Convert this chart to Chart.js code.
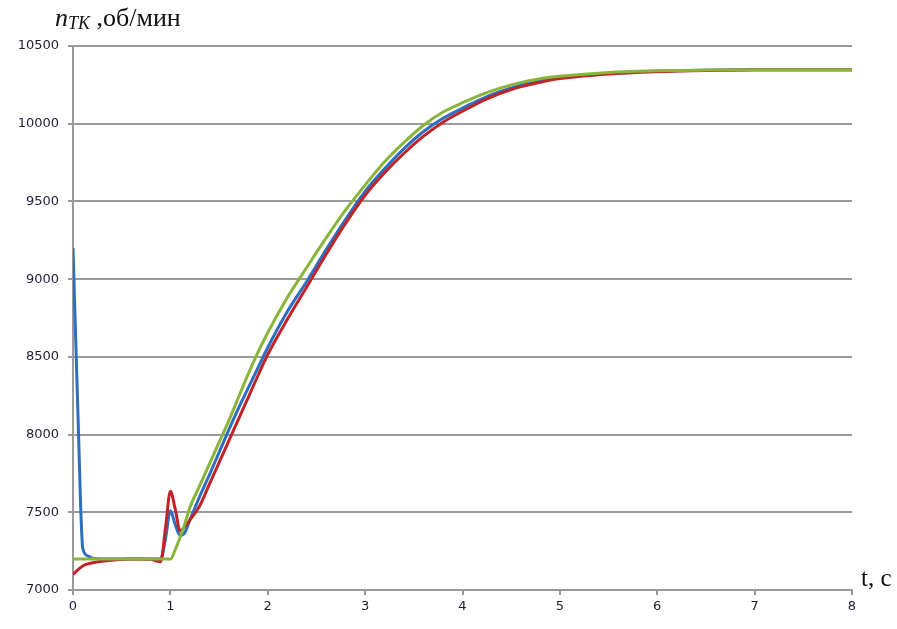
<!DOCTYPE html>
<html>
<head>
<meta charset="utf-8">
<script src="https://cdn.jsdelivr.net/npm/chart.js@4/dist/chart.umd.min.js"></script>
<style>
  body { margin: 0; background: #fff; }
  #wrap { position: relative; width: 897px; height: 629px; }
  .lbl { position: absolute; font-family: "Liberation Serif", "DejaVu Serif", serif; color: #111; white-space: nowrap; }
  #ytitle { left: 55px; top: 3px; font-size: 26px; }
  #ytitle sub { font-size: 18px; font-style: italic; vertical-align: -3px; }
  #xtitle { left: 861px; top: 564px; font-size: 25px; }
</style>
</head>
<body>
<div id="wrap">
  <canvas id="myChart" width="897" height="629"></canvas>
  <div id="ytitle" class="lbl"><i>n</i><sub>TK</sub> ,об/мин</div>
  <div id="xtitle" class="lbl">t, с</div>
</div>
<script>
const time = [0, 0.05, 0.1, 0.15, 0.2, 0.3, 0.4, 0.5, 0.6, 0.7, 0.8, 0.85, 0.9, 0.95, 1.0, 1.05, 1.1, 1.15, 1.2,
  1.3, 1.4, 1.5, 1.6, 1.7, 1.8, 1.9, 2.0, 2.2, 2.4, 2.6, 2.8, 3.0, 3.2, 3.4, 3.6, 3.8, 4.0, 4.25, 4.5, 4.75,
  5.0, 5.5, 6.0, 6.5, 7.0, 7.5, 8.0];

const speedBlue = [9200, 8150, 7270, 7220, 7205, 7200, 7200, 7200, 7200, 7200, 7200, 7200, 7200, 7330, 7510, 7420, 7350, 7370, 7450,
  7600, 7740, 7885, 8030, 8170, 8300, 8430, 8560, 8790, 8985, 9190, 9385, 9565, 9710, 9840, 9950, 10035, 10100, 10175, 10230, 10270,
  10295, 10325, 10338, 10344, 10347, 10348, 10348];

const speedRed = [7100, 7130, 7155, 7168, 7175, 7185, 7192, 7197, 7200, 7200, 7198, 7188, 7182, 7400, 7635, 7520, 7380, 7410, 7450,
  7540, 7680, 7820, 7960, 8100, 8240, 8380, 8515, 8740, 8950, 9160, 9360, 9540, 9685, 9810, 9920, 10010, 10080, 10160, 10220, 10260,
  10290, 10320, 10335, 10343, 10347, 10348, 10348];

const speedGreen = [7200, 7200, 7200, 7200, 7200, 7200, 7200, 7200, 7200, 7200, 7200, 7200, 7200, 7200, 7198, 7260, 7340, 7430, 7530,
  7670, 7810, 7950, 8090, 8240, 8390, 8530, 8655, 8880, 9075, 9265, 9445, 9605, 9755, 9880, 9990, 10075, 10135, 10200, 10250, 10285,
  10305, 10330, 10340, 10345, 10348, 10348, 10348];

const xTicks = [0, 1, 2, 3, 4, 5, 6, 7, 8];
const yTicks = [7000, 7500, 8000, 8500, 9000, 9500, 10000, 10500];

function points(values) {
  return time.map((t, i) => ({ x: t, y: values[i] }));
}

const lineStyle = {
  borderWidth: 3,
  pointRadius: 0,
  fill: false,
  cubicInterpolationMode: 'monotone',
};

const data = {
  datasets: [
    { ...lineStyle, label: 'blue', data: points(speedBlue), borderColor: 'rgb(46, 110, 190)', order: 2 },
    { ...lineStyle, label: 'red', data: points(speedRed), borderColor: 'rgb(192, 36, 40)', order: 1 },
    { ...lineStyle, label: 'green', data: points(speedGreen), borderColor: 'rgb(138, 180, 58)', order: 0 },
  ]
};

const gridColor = '#9a9a9a';

const config = {
  type: 'line',
  data: data,
  options: {
    responsive: false,
    animation: false,
    layout: { padding: { top: 46, right: 45, left: 0, bottom: 0 } },
    plugins: {
      legend: { display: false },
      tooltip: { enabled: false },
    },
    scales: {
      x: {
        type: 'linear',
        min: 0,
        max: 8,
        afterBuildTicks: (scale) => { scale.ticks = xTicks.map(v => ({ value: v })); },
        afterFit: (scale) => { scale.height = 39; },
        ticks: {
          color: '#1d1d35',
          font: { family: 'DejaVu Sans', size: 13 },
          padding: 4,
          maxRotation: 0,
          callback: (value) => String(value),
        },
        grid: { drawOnChartArea: false, drawTicks: true, tickLength: 5, color: gridColor, lineWidth: 2 },
        border: { color: gridColor, width: 2 },
      },
      y: {
        type: 'linear',
        min: 7000,
        max: 10500,
        afterBuildTicks: (scale) => { scale.ticks = yTicks.map(v => ({ value: v })); },
        afterFit: (scale) => { scale.width = 73; },
        ticks: {
          color: '#1d1d35',
          font: { family: 'DejaVu Sans', size: 13 },
          padding: 9,
          callback: (value) => String(value),
        },
        grid: { color: gridColor, lineWidth: 2, tickLength: 5 },
        border: { color: gridColor, width: 2 },
      },
    }
  },
};

window.myChart = new Chart(document.getElementById('myChart'), config);
</script>
</body>
</html>
